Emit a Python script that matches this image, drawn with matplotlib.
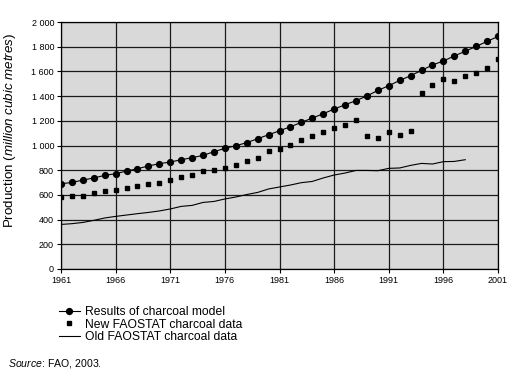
import matplotlib
matplotlib.use("Agg")
import matplotlib.pyplot as plt

plt.rcParams['font.family'] = ['Liberation Sans', 'DejaVu Sans']
plt.rcParams['mathtext.fontset'] = 'custom'
plt.rcParams['mathtext.rm'] = 'Liberation Sans'
plt.rcParams['mathtext.it'] = 'Liberation Sans:italic'

# donnees
annees = list(range(1961, 2002))
modele = [690, 701, 720, 737, 758, 772, 793, 812, 834, 853,
          866, 885, 901, 920, 950, 977, 998, 1023, 1055, 1087,
          1119, 1152, 1187, 1222, 1257, 1295, 1330, 1363, 1401, 1446,
          1484, 1527, 1565, 1608, 1652, 1684, 1725, 1763, 1802, 1843,
          1883]
faostat_new = [580, 588, 593, 615, 628, 642, 656, 669, 685, 699,
               720, 747, 761, 790, 798, 818, 842, 871, 896, 952,
               974, 1001, 1044, 1077, 1106, 1139, 1166, 1203, 1079, 1058,
               1106, 1085, 1120, 1425, 1490, 1538, 1525, 1560, 1589, 1630,
               1697]
annees_old = list(range(1961, 1999))
faostat_old = [361, 367, 377, 394, 413, 426, 437, 448, 458, 470,
               486, 507, 515, 539, 547, 567, 583, 603, 620, 648,
               664, 680, 699, 709, 737, 761, 777, 798, 798, 796,
               815, 818, 839, 855, 850, 869, 871, 885]

xticks = list(range(1961, 2002, 5))
yticks = list(range(0, 2001, 200))
ytick_labels = ["0", "200", "400", "600", "800", "1 000", "1 200",
                "1 400", "1 600", "1 800", "2 000"]

fig = plt.figure(figsize=(5.25, 3.71), dpi=100)
ax = fig.add_axes([61/525, 1 - 269/371, 437/525, 247/371])
ax.set_facecolor("#d9d9d9")

l1, = ax.plot(annees, modele, "o-", color="black", lw=0.8, ms=4.2,
              label="Results of charcoal model", zorder=4)
l2, = ax.plot(annees, faostat_new, "s", color="black", ms=2.8,
              label="New FAOSTAT charcoal data", zorder=4)
l3, = ax.plot(annees_old, faostat_old, "-", color="black", lw=0.8,
              label="Old FAOSTAT charcoal data", zorder=4)

ax.set_xlim(1961, 2001)
ax.set_ylim(0, 2000)
ax.set_xticks(xticks)
ax.set_yticks(yticks)
ax.set_yticklabels(ytick_labels)
ax.grid(True, color="#1a1a1a", lw=0.9)
ax.set_axisbelow(True)
for s in ax.spines.values():
    s.set_color("black")
    s.set_linewidth(0.9)
ax.tick_params(labelsize=6.5, length=3, width=0.8, pad=2)
ax.set_ylabel(r"Production $\it{(million\ cubic\ metres)}$", fontsize=9.6)
ax.yaxis.set_label_coords(-43/437, 0.56)

fig.legend(handles=[l1, l2, l3], loc="upper left", bbox_to_anchor=(53/525, 1 - 300/371),
           frameon=False, fontsize=8.7, handlelength=1.7, handletextpad=0.45,
           labelspacing=0.05, borderpad=0)

fig.text(8/525, 1 - 364/371, r"$\it{Source}$: FAO, 2003.", fontsize=7.6, va="center")

plt.savefig("out.png", dpi=100)
